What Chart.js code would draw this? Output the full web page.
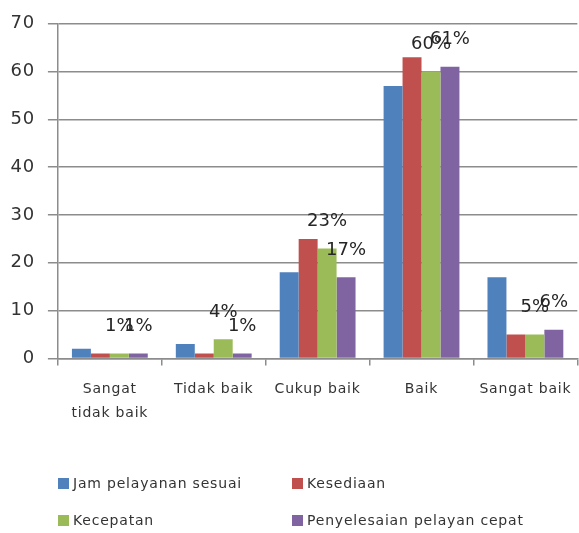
<!DOCTYPE html>
<html>
<head>
<meta charset="utf-8">
<script src="https://cdn.jsdelivr.net/npm/chart.js@4.4.1/dist/chart.umd.min.js"></script>
<style>
  html, body { margin: 0; padding: 0; background: #fff; }
  #wrap { position: relative; width: 579px; height: 533px; }
  #legend {
    position: absolute; left: 58px; top: 474px;
    display: grid; grid-template-columns: 234px 280px; row-gap: 19px;
    font-family: "DejaVu Sans", sans-serif; font-size: 14px; color: #333;
    letter-spacing: 0.8px; line-height: 18px;
  }
  .item { display: flex; align-items: center; white-space: nowrap; }
  .box { width: 11px; height: 11px; margin-right: 4px; flex: none; }
</style>
</head>
<body>
<div id="wrap">
  <canvas id="c" width="579" height="533"></canvas>
  <div id="legend"></div>
</div>
<script>
const categories = [["Sangat", "tidak baik"], "Tidak baik", "Cukup baik", "Baik", "Sangat baik"];
const seriesNames = ["Jam pelayanan sesuai", "Kesediaan", "Kecepatan", "Penyelesaian pelayan cepat"];
const seriesColors = ["#4F81BD", "#C0504D", "#9BBB59", "#8064A2"];
const jamPelayanan = [2, 3, 18, 57, 17];
const kesediaan = [1, 1, 25, 63, 5];
const kecepatan = [1, 4, 23, 60, 5];
const penyelesaian = [1, 1, 17, 61, 6];
const yTicks = [0, 10, 20, 30, 40, 50, 60, 70];
// series that carry a percentage label above each bar
const labelledSeries = [2, 3];

const seriesValues = [jamPelayanan, kesediaan, kecepatan, penyelesaian];

const spacingPlugin = {
  id: 'spacing',
  beforeDraw(chart) { chart.ctx.letterSpacing = '0.8px'; },
  afterDraw(chart) { chart.ctx.letterSpacing = '0px'; }
};

const valueLabels = {
  id: 'valueLabels',
  afterDatasetsDraw(chart) {
    const ctx = chart.ctx;
    ctx.save();
    ctx.letterSpacing = '0px';
    ctx.font = '18px "DejaVu Sans", sans-serif';
    ctx.fillStyle = '#262626';
    ctx.textAlign = 'center';
    ctx.textBaseline = 'middle';
    labelledSeries.forEach(i => {
      const meta = chart.getDatasetMeta(i);
      meta.data.forEach((bar, j) => {
        ctx.fillText(seriesValues[i][j] + '%', bar.x, bar.y - 27);
      });
    });
    ctx.restore();
  }
};

const chart = new Chart(document.getElementById('c'), {
  type: 'bar',
  data: {
    labels: categories,
    datasets: seriesNames.map((name, i) => ({
      label: name,
      data: seriesValues[i],
      backgroundColor: seriesColors[i],
      borderWidth: 0,
      barPercentage: 1,
      categoryPercentage: 0.73
    }))
  },
  options: {
    responsive: false,
    animation: false,
    layout: { padding: { left: -1, top: 15, right: 0, bottom: 96 } },
    plugins: { legend: { display: false }, tooltip: { enabled: false } },
    scales: {
      y: {
        min: 0, max: 70,
        afterBuildTicks(scale) { scale.ticks = yTicks.map(v => ({ value: v })); },
        grid: { color: '#8c8c8c', lineWidth: 1.5, tickLength: 10, drawTicks: true },
        border: { display: true, color: '#8c8c8c', width: 1.5 },
        ticks: { color: '#333', padding: 13, font: { family: 'DejaVu Sans', size: 18 } }
      },
      x: {
        grid: { display: true, drawOnChartArea: false, drawTicks: true, tickLength: 7, color: '#8c8c8c', lineWidth: 1.5, offset: true },
        border: { display: true, color: '#8c8c8c', width: 1.5 },
        ticks: { color: '#333', padding: 12, maxRotation: 0, autoSkip: false, font: { family: 'DejaVu Sans', size: 14, lineHeight: 1.7 } }
      }
    }
  },
  plugins: [spacingPlugin, valueLabels]
});

// legend in a fixed two-column grid, built from the datasets
const legend = document.getElementById('legend');
chart.data.datasets.forEach(ds => {
  const item = document.createElement('div');
  item.className = 'item';
  const box = document.createElement('span');
  box.className = 'box';
  box.style.background = ds.backgroundColor;
  const txt = document.createElement('span');
  txt.textContent = ds.label;
  item.appendChild(box);
  item.appendChild(txt);
  legend.appendChild(item);
});
</script>
</body>
</html>
